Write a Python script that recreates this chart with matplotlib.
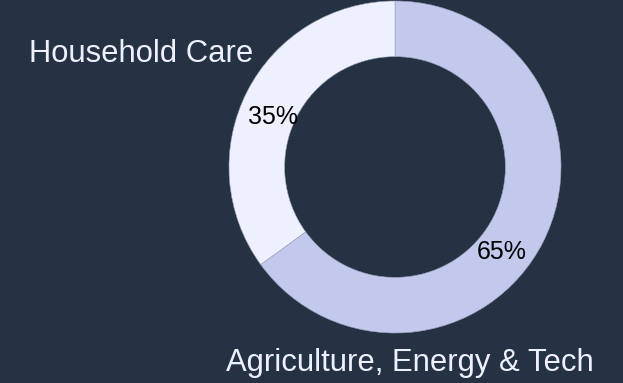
import matplotlib
matplotlib.use("Agg")
import matplotlib.pyplot as plt

categories = ["Agriculture, Energy & Tech", "Household Care"]
values = [65, 35]
colors = ["#c3c9ec", "#eef0fd"]

BG = "#253244"
plt.rcParams['font.family'] = ['Liberation Sans', 'DejaVu Sans']

fig = plt.figure(figsize=(6.23, 3.83), dpi=100, facecolor=BG)
ax = fig.add_axes([0, 0, 1, 1])
ax.set_facecolor(BG)

cx, cy, R = 395, 383 - 167, 166
wedges, _ = ax.pie(values, colors=colors, startangle=90, counterclock=False,
                   center=(cx, cy), radius=R,
                   wedgeprops=dict(width=R * 0.335, edgecolor="#9aa1bd", linewidth=0.4))
ax.set_xlim(0, 623)
ax.set_ylim(0, 383)
ax.set_aspect('equal')
ax.axis('off')

total = sum(values)
pct = [f"{round(v / total * 100)}%" for v in values]

# percentage labels
ax.text(502, 383 - 252, pct[0], ha='center', va='center', fontsize=18, color='black')
ax.text(273, 383 - 117, pct[1], ha='center', va='center', fontsize=18, color='black')

# category labels
ax.text(410, 383 - 371, categories[0], ha='center', va='baseline', fontsize=22.3, color='#eef0fd')
ax.text(253, 383 - 62, categories[1], ha='right', va='baseline', fontsize=22.3, color='#eef0fd')

fig.savefig("out.png", dpi=100, facecolor=BG)
